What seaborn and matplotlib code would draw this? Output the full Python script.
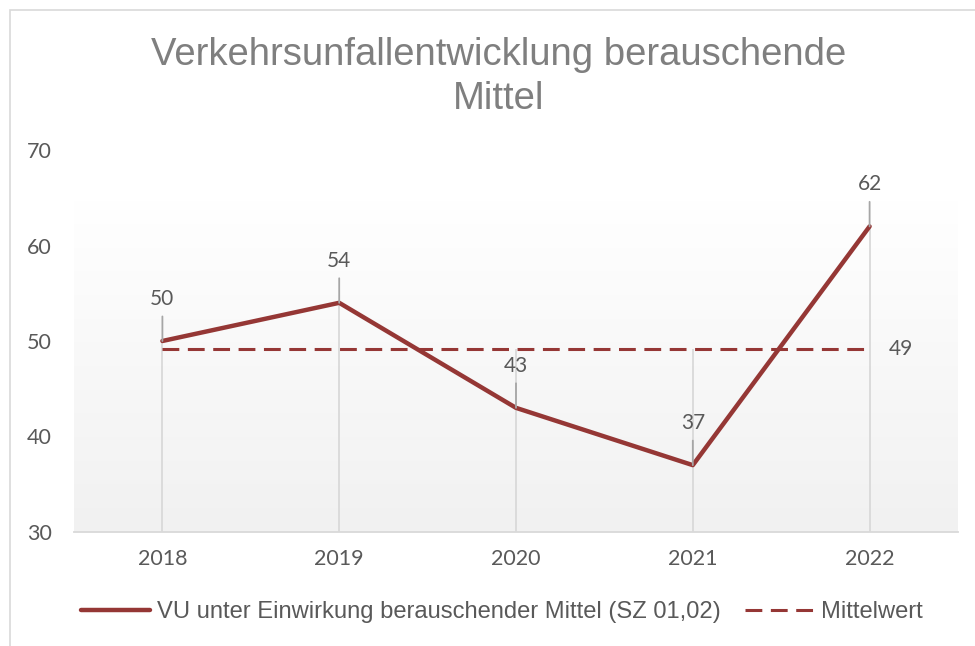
import matplotlib
matplotlib.use("Agg")
import matplotlib.pyplot as plt
import numpy as np
import pandas as pd
import seaborn as sns
from matplotlib.patches import Rectangle

# ── data ───────────────────────────────────────────────────────
years = ["2018", "2019", "2020", "2021", "2022"]
unfaelle = [50, 54, 43, 37, 62]
series_name = "VU unter Einwirkung berauschender Mittel (SZ 01,02)"
mean_name = "Mittelwert"
title = "Verkehrsunfallentwicklung berauschende\nMittel"

mean_val = float(np.mean(unfaelle))
df = pd.DataFrame({"x": np.arange(len(years)), "jahr": years, "vu": unfaelle,
                   "mittel": [mean_val] * len(years)})

RED = "#953735"
TXT = "#595959"
TICKFONT = ["Lato", "DejaVu Sans"]
ARIAL = ["Liberation Sans", "DejaVu Sans"]

sns.set_theme(style="white")
plt.rcParams["font.family"] = ARIAL

fig = plt.figure(figsize=(9.75, 6.46), dpi=100)
ax = fig.add_axes([74/975, 1-532/646, 884/975, 382/646])

# outer chart border
fig.patches.append(Rectangle((9.5/975, -0.1), 1.2, 1-10/646+0.1, transform=fig.transFigure,
                             fill=False, edgecolor="#d9d9d9", lw=1.2))

# gradient plot area (white on top -> light grey at the bottom)
grad = np.linspace(0.0, 1.0, 256).reshape(-1, 1)
ax.imshow(grad, extent=[0, 1, 0, 1 - 50/382], transform=ax.transAxes, aspect="auto",
          origin="lower",
          cmap=matplotlib.colors.LinearSegmentedColormap.from_list("g", ["#f1f1f1", "#ffffff"]),
          vmin=0, vmax=1, zorder=0)

# drop lines
ax.vlines(df["x"], 30, np.maximum(df["vu"], df["mittel"]), color="#d9d9d9", lw=1.3, zorder=1)

sns.lineplot(data=df, x="x", y="vu", ax=ax, color=RED, lw=3.2, label=series_name,
             zorder=4, solid_capstyle="round")
sns.lineplot(data=df, x="x", y="mittel", ax=ax, color=RED, lw=2.2, label=mean_name,
             zorder=3, dashes=(5.5, 2.8))

# data labels with leader lines
for xi, v in zip(df["x"], df["vu"]):
    ax.annotate(f"{v}", xy=(xi, v), xytext=(0, 42), textcoords="offset pixels",
                ha="center", va="center", fontsize=15, color=TXT, family=TICKFONT,
                arrowprops=dict(arrowstyle="-", color="#a6a6a6", lw=1.3,
                                shrinkA=3, shrinkB=0), zorder=5)
ax.annotate(f"{mean_val:.0f}", xy=(df["x"].iloc[-1], mean_val), xytext=(19, 0),
            textcoords="offset pixels", ha="left", va="center", fontsize=15,
            color=TXT, family=TICKFONT)

ax.set_xlim(-0.5, len(years) - 0.5)
ax.set_ylim(30, 70)
ax.set_yticks([30, 40, 50, 60, 70])
ax.set_xticks(df["x"])
ax.set_xticklabels(years)
ax.set_xlabel("")
ax.set_ylabel("")
ax.tick_params(axis="both", length=0, labelsize=15.5, colors=TXT)
ax.tick_params(axis="x", pad=12)
ax.tick_params(axis="y", pad=16)
for lab in ax.get_xticklabels() + ax.get_yticklabels():
    lab.set_family(TICKFONT)
for s in ["top", "right", "left"]:
    ax.spines[s].set_visible(False)
ax.spines["bottom"].set_color("#d9d9d9")
ax.spines["bottom"].set_linewidth(1.3)
ax.set_facecolor("none")

fig.text(0.511, 1 - 77/646, title, ha="center", va="center", fontsize=27.5,
         color="#7f7f7f", linespacing=1.32)

leg = ax.legend(loc="center", bbox_to_anchor=(502/975, 1 - 612/646), bbox_transform=fig.transFigure,
                ncol=2, frameon=False, fontsize=17.1, handlelength=2.9, handletextpad=0.3,
                columnspacing=1.0, borderpad=0, borderaxespad=0)
for t in leg.get_texts():
    t.set_color(TXT)

fig.savefig("out.png", dpi=100)
